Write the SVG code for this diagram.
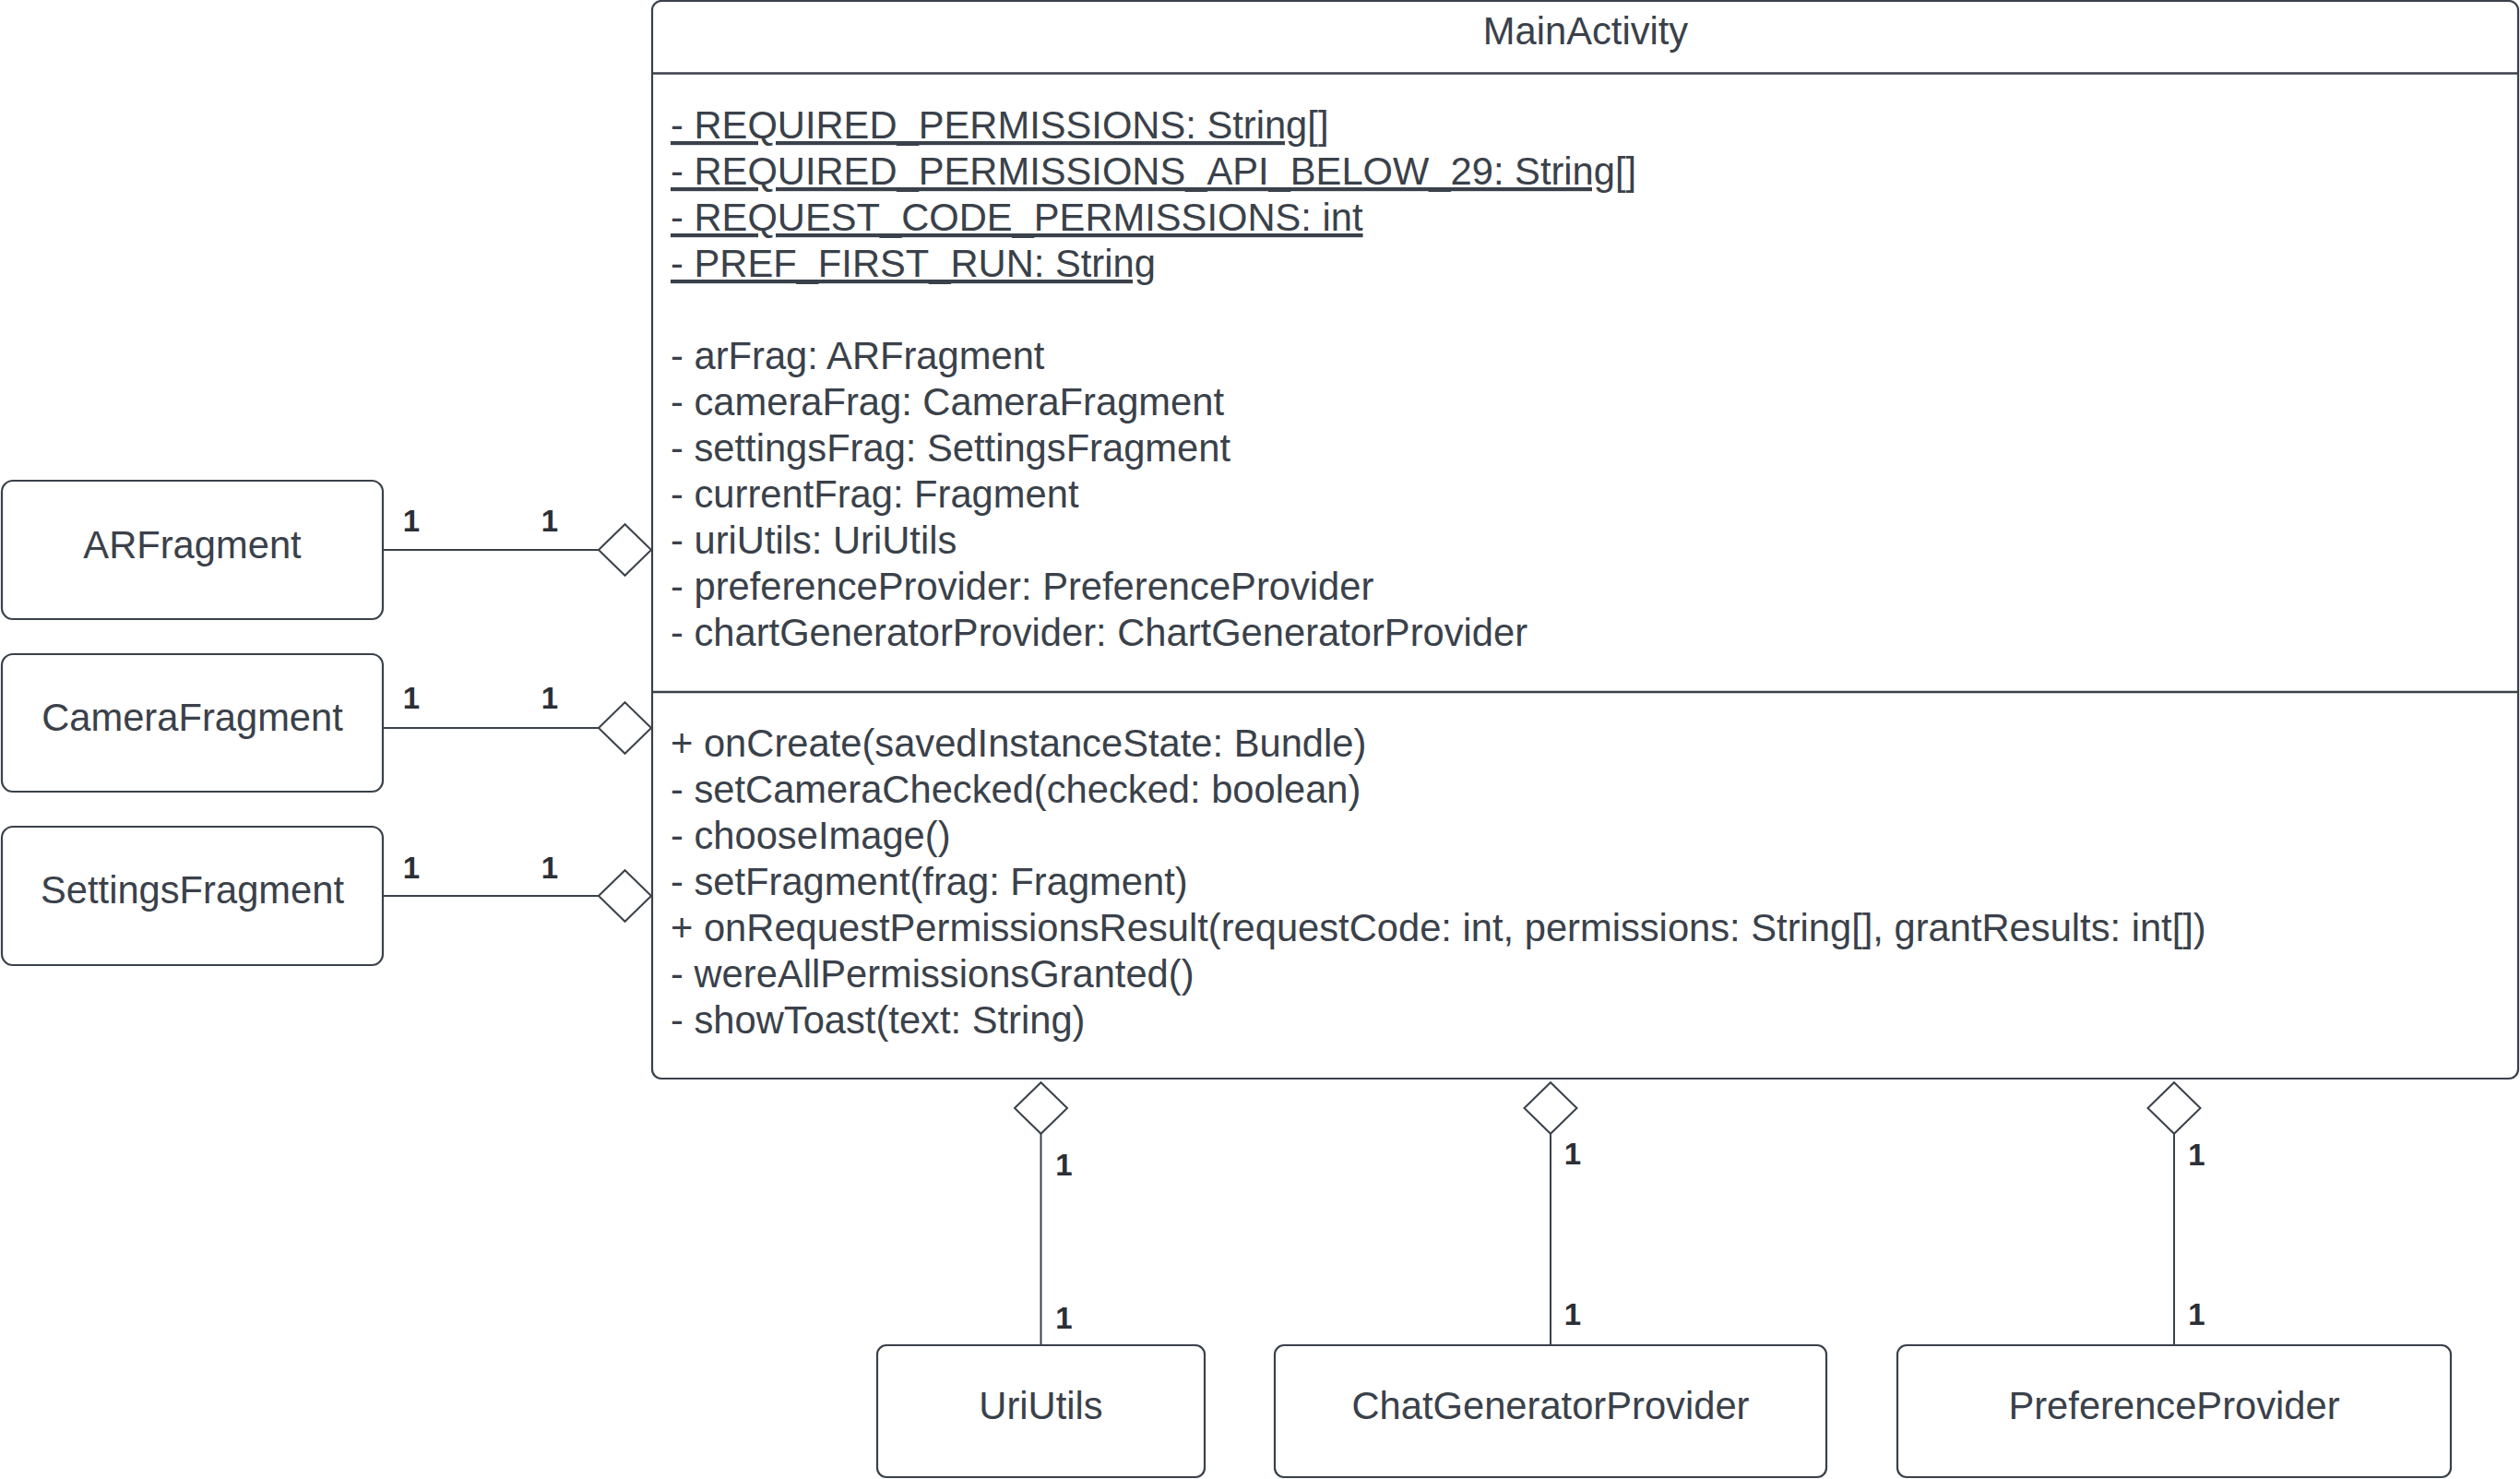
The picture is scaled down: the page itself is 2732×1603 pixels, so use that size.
<svg xmlns="http://www.w3.org/2000/svg" width="2732" height="1603" viewBox="0 0 2732 1603">
<style>
.box{fill:#ffffff;stroke:#3a414a;stroke-width:2.2}
.sep{stroke:#3a414a;stroke-width:2.6}
.t{font-family:"Liberation Sans",Arial,sans-serif;font-size:41.7px;fill:#3a414a}
.c{text-anchor:middle}
.u{text-decoration:underline}
.edge{stroke:#3a414a;stroke-width:2;fill:none}
.dia{fill:#ffffff;stroke:#3a414a;stroke-width:2}
.lbl{font-family:"Liberation Sans",Arial,sans-serif;font-size:33px;font-weight:bold;fill:#2c2f36;text-anchor:middle}
</style>
<defs>
<path id="diamond" d="M-28.5,0 L0,-27.8 L28.5,0 L0,27.8 Z"/>
</defs>
<rect width="2732" height="1603" fill="#ffffff"/>

<g id="MainActivity">
<rect class="box" x="707" y="1" width="2023" height="1168" rx="10"/>
<line class="sep" x1="707" y1="79.5" x2="2730" y2="79.5"/>
<line class="sep" x1="707" y1="750" x2="2730" y2="750"/>
<text class="t c" x="1719" y="48">MainActivity</text>
<text class="t u" x="727" y="150">- REQUIRED_PERMISSIONS: String[]</text>
<text class="t u" x="727" y="200">- REQUIRED_PERMISSIONS_API_BELOW_29: String[]</text>
<text class="t u" x="727" y="250">- REQUEST_CODE_PERMISSIONS: int</text>
<text class="t u" x="727" y="300">- PREF_FIRST_RUN: String</text>
<text class="t" x="727" y="400">- arFrag: ARFragment</text>
<text class="t" x="727" y="450">- cameraFrag: CameraFragment</text>
<text class="t" x="727" y="500">- settingsFrag: SettingsFragment</text>
<text class="t" x="727" y="550">- currentFrag: Fragment</text>
<text class="t" x="727" y="600">- uriUtils: UriUtils</text>
<text class="t" x="727" y="650">- preferenceProvider: PreferenceProvider</text>
<text class="t" x="727" y="700">- chartGeneratorProvider: ChartGeneratorProvider</text>
<text class="t" x="727" y="820">+ onCreate(savedInstanceState: Bundle)</text>
<text class="t" x="727" y="870">- setCameraChecked(checked: boolean)</text>
<text class="t" x="727" y="920">- chooseImage()</text>
<text class="t" x="727" y="970">- setFragment(frag: Fragment)</text>
<text class="t" x="727" y="1020">+ onRequestPermissionsResult(requestCode: int, permissions: String[], grantResults: int[])</text>
<text class="t" x="727" y="1070">- wereAllPermissionsGranted()</text>
<text class="t" x="727" y="1120">- showToast(text: String)</text>
</g>

<g id="ARFragment">
<rect class="box" x="2" y="521" width="413" height="150" rx="12"/>
<text class="t c" x="208.5" y="605">ARFragment</text>
</g>
<g id="CameraFragment">
<rect class="box" x="2" y="709" width="413" height="149" rx="12"/>
<text class="t c" x="208.5" y="792">CameraFragment</text>
</g>
<g id="SettingsFragment">
<rect class="box" x="2" y="896" width="413" height="150" rx="12"/>
<text class="t c" x="208.5" y="979">SettingsFragment</text>
</g>
<g id="UriUtils">
<rect class="box" x="951" y="1458" width="355" height="143" rx="10"/>
<text class="t c" x="1128.5" y="1538">UriUtils</text>
</g>
<g id="ChatGeneratorProvider">
<rect class="box" x="1382" y="1458" width="598" height="143" rx="10"/>
<text class="t c" x="1681" y="1538">ChatGeneratorProvider</text>
</g>
<g id="PreferenceProvider">
<rect class="box" x="2057" y="1458" width="600" height="143" rx="10"/>
<text class="t c" x="2357" y="1538">PreferenceProvider</text>
</g>

<g id="connectors">
<line class="edge" x1="415" y1="596" x2="649" y2="596"/>
<use href="#diamond" class="dia" x="677.5" y="596"/>
<line class="edge" x1="415" y1="789" x2="649" y2="789"/>
<use href="#diamond" class="dia" x="677.5" y="789"/>
<line class="edge" x1="415" y1="971" x2="649" y2="971"/>
<use href="#diamond" class="dia" x="677.5" y="971"/>
<line class="edge" x1="1128.5" y1="1229" x2="1128.5" y2="1458"/>
<use href="#diamond" class="dia" x="1128.5" y="1201"/>
<line class="edge" x1="1681" y1="1229" x2="1681" y2="1458"/>
<use href="#diamond" class="dia" x="1681" y="1201"/>
<line class="edge" x1="2357" y1="1229" x2="2357" y2="1458"/>
<use href="#diamond" class="dia" x="2357" y="1201"/>
<text class="lbl" x="446" y="576">1</text>
<text class="lbl" x="596" y="576">1</text>
<text class="lbl" x="446" y="768">1</text>
<text class="lbl" x="596" y="768">1</text>
<text class="lbl" x="446" y="952">1</text>
<text class="lbl" x="596" y="952">1</text>
<text class="lbl" x="1153.5" y="1274">1</text>
<text class="lbl" x="1153.5" y="1440">1</text>
<text class="lbl" x="1705" y="1262">1</text>
<text class="lbl" x="1705" y="1436">1</text>
<text class="lbl" x="2381.5" y="1263">1</text>
<text class="lbl" x="2381.5" y="1436">1</text>
</g>
</svg>
